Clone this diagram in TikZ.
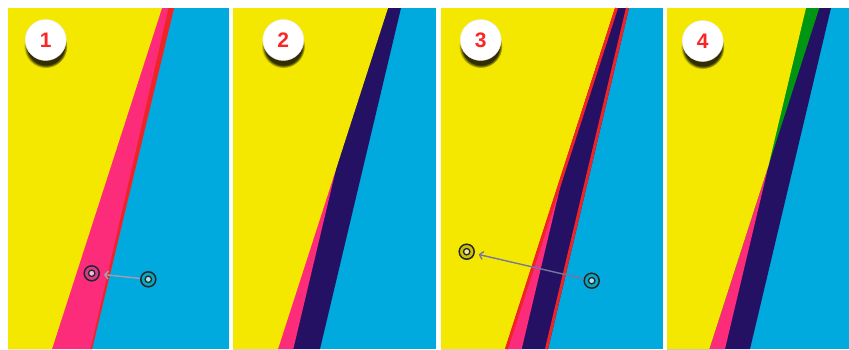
\documentclass[tikz,border=0pt]{standalone}
\usepackage{fontspec}
\newfontfamily\badgefont{Liberation Sans}
\usetikzlibrary{arrows.meta,shadows}
\definecolor{sunY}{RGB}{245,232,0}
\definecolor{skyB}{RGB}{0,169,222}
\definecolor{hotP}{RGB}{252,44,122}
\definecolor{inkN}{RGB}{36,17,100}
\definecolor{lineR}{RGB}{240,36,38}
\definecolor{leafG}{RGB}{0,150,18}
\definecolor{numR}{RGB}{250,38,38}
\definecolor{dragG}{RGB}{160,160,172}
\definecolor{dragS}{RGB}{118,118,160}
\definecolor{ringM}{RGB}{215,60,140}
\definecolor{ringC}{RGB}{0,170,200}
\definecolor{ringY}{RGB}{205,195,0}

\begin{document}
\begin{tikzpicture}[x=1pt, y=-1pt,
  badge/.style={circle, fill=white, draw=black!8, minimum size=41pt, inner sep=0pt, font=\badgefont\bfseries\fontsize{21}{21}\selectfont, text=numR,
    circular drop shadow={shadow xshift=0pt, shadow yshift=-6pt, shadow scale=1.06, opacity=0.8, fill=black}},
  ring/.style={circle, draw=black!85, line width=1.5pt, minimum size=15pt, inner sep=0pt, fill=#1,
    path picture={\draw[black!85, line width=1.3pt, fill=#1!35!white] (path picture bounding box.center) circle (3.2pt);}},
  drag/.style={draw=#1, line width=1.4pt, -{Straight Barb[length=3.5pt, width=8pt]}, shorten >=4pt},
  redge/.style={draw=lineR, line width=3pt}]
\useasboundingbox (0,0) rectangle (849,349);
% panel 1
\fill[skyB] (8,8) rectangle (229,349);
\fill[hotP] (8,8) -- (174,8) -- (92,349) -- (8,349) -- cycle;
\fill[lineR] (168.5,8) -- (174,8) -- (92,349) -- (90.5,349) -- cycle;
\fill[sunY] (8,8) -- (162,8) -- (52,349) -- (8,349) -- cycle;
% panel 2
\fill[skyB] (233,8) rectangle (436,349);
\fill[inkN] (233,8) -- (401,8) -- (320,349) -- (233,349) -- cycle;
\fill[hotP] (233,8) -- (374.3,8) -- (293.3,349) -- (233,349) -- cycle;
\fill[sunY] (233,8) -- (388,8) -- (278,349) -- (233,349) -- cycle;
% panel 3
\fill[skyB] (441,8) rectangle (663,349);
\fill[inkN] (441,8) -- (629,8) -- (548,349) -- (441,349) -- cycle;
\fill[hotP] (441,8) -- (602.7,8) -- (521.7,349) -- (441,349) -- cycle;
\fill[sunY] (441,8) -- (615,8) -- (505,349) -- (441,349) -- cycle;
\draw[redge] (616.5,8) -- (506.5,349);
\draw[redge] (627.5,8) -- (546.5,349);
% panel 4
\coordinate (x4) at (intersection of 819.3,8--709.3,349 and 806,8--725,349);
\fill[skyB] (667,8) rectangle (849,349);
\fill[inkN] (667,8) -- (831,8) -- (750,349) -- (667,349) -- cycle;
\fill[hotP] (667,8) -- (806,8) -- (725,349) -- (667,349) -- cycle;
\fill[leafG] (667,8) -- (819.3,8) -- (709.3,349) -- (667,349) -- cycle;
\fill[sunY] (667,8) -- (806,8) -- (x4) -- (709.3,349) -- (667,349) -- cycle;
% badges
\node[badge] (b1) at (45.7,40)  {1};
\node[badge] (b2) at (283.3,40) {2};
\node[badge] (b3) at (480.7,40) {3};
\node[badge] (b4) at (702.7,41) {4};
% moves
\node[ring=ringM] (m1) at (91.7,273.3)  {};
\node[ring=ringC] (c1) at (148.3,279.3) {};
\node[ring=ringY] (y3) at (466.7,251.7) {};
\node[ring=ringC] (c3) at (591.7,280.7) {};
\draw[drag=dragG] (c1) -- (m1);
\draw[drag=dragS] (c3) -- (y3);
\end{tikzpicture}
\end{document}
